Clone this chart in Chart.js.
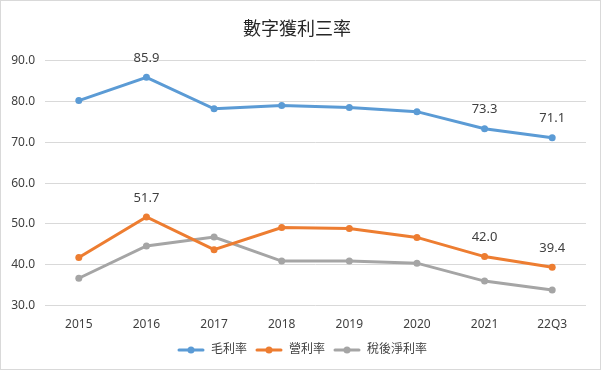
<!DOCTYPE html>
<html>
<head>
<meta charset="utf-8">
<script src="https://cdn.jsdelivr.net/npm/chart.js@4"></script>
<style>
  body { margin: 0; background: #fff; }
  #wrap { width: 601px; height: 370px; }
</style>
</head>
<body>
<div id="wrap"><canvas id="chart" width="601" height="370"></canvas></div>
<script>
const years = ['2015', '2016', '2017', '2018', '2019', '2020', '2021', '22Q3']
const grossMargin = [80.2, 85.9, 78.2, 79.0, 78.5, 77.5, 73.3, 71.1]
const operatingMargin = [41.8, 51.7, 43.7, 49.1, 48.9, 46.7, 42.0, 39.4]
const netMargin = [36.7, 44.6, 46.8, 40.9, 40.9, 40.4, 36.0, 33.8]
const yTicks = [30, 40, 50, 60, 70, 80, 90]
// which points get a value label
const labelled = [1, 6, 7]

const font = '"Noto Sans", "Noto Sans CJK TC", sans-serif'
const colors = ['#5B9BD5', '#ED7D31', '#A5A5A5']

// small line + dot icon for the legend, excel style
const makeIcon = (color) => {
    const c = document.createElement('canvas')
    c.width = 28
    c.height = 8
    const g = c.getContext('2d')
    g.strokeStyle = color
    g.lineWidth = 3
    g.lineCap = 'round'
    g.beginPath()
    g.moveTo(2, 4)
    g.lineTo(26, 4)
    g.stroke()
    g.fillStyle = color
    g.beginPath()
    g.arc(14, 4, 3.5, 0, Math.PI * 2)
    g.fill()
    return c
}
const icons = colors.map(makeIcon)

const frame = {
    id: 'frame',
    beforeDraw(chart) {
        const c = chart.ctx
        c.save()
        c.fillStyle = '#fff'
        c.fillRect(0, 0, chart.width, chart.height)
        c.strokeStyle = '#d9d9d9'
        c.lineWidth = 1
        c.strokeRect(0.5, 0.5, chart.width - 1, chart.height - 1)
        c.restore()
    },
    // legend sits a bit right of centre in the original
    afterLayout(chart) {
        chart.legend.left += 5
        chart.legend.right += 5
    }
}

const valueLabels = {
    id: 'valueLabels',
    afterDatasetsDraw(chart) {
        const c = chart.ctx
        c.save()
        c.font = '13px ' + font
        c.fillStyle = '#404040'
        c.textAlign = 'center'
        c.textBaseline = 'middle'
        ;[0, 1].forEach(di => {
            const meta = chart.getDatasetMeta(di)
            labelled.forEach(i => {
                const p = meta.data[i]
                const v = chart.data.datasets[di].data[i]
                c.fillText(v.toFixed(1), p.x, p.y - 19)
            })
        })
        c.restore()
    }
}

const mk = (label, data, color) => ({
    label,
    data,
    borderColor: color,
    backgroundColor: color,
    borderWidth: 3,
    pointRadius: 3.5,
    pointHoverRadius: 3.5,
    pointBorderWidth: 0,
    tension: 0
})

new Chart(document.getElementById('chart'), {
    type: 'line',
    data: {
        labels: years,
        datasets: [
            mk('毛利率', grossMargin, colors[0]),
            mk('營利率', operatingMargin, colors[1]),
            mk('稅後淨利率', netMargin, colors[2])
        ]
    },
    options: {
        responsive: false,
        animation: false,
        layout: { padding: { left: 8, right: 15, top: 0, bottom: 4 } },
        plugins: {
            title: {
                display: true,
                text: '數字獲利三率',
                color: '#262626',
                font: { family: font, size: 18, weight: 'normal' },
                padding: { top: 19, bottom: 20 }
            },
            legend: {
                position: 'bottom',
                labels: {
                    color: '#404040',
                    font: { family: font, size: 12 },
                    usePointStyle: true,
                    pointStyleWidth: 28,
                    padding: 8,
                    generateLabels(chart) {
                        const items = Chart.defaults.plugins.legend.labels.generateLabels(chart)
                        items.forEach((it, i) => { it.pointStyle = icons[i] })
                        return items
                    }
                }
            },
            tooltip: { enabled: false }
        },
        scales: {
            x: {
                offset: true,
                grid: { display: false },
                border: { display: false },
                ticks: { color: '#404040', font: { family: font, size: 12 }, padding: 4 }
            },
            y: {
                min: 30,
                max: 90,
                afterBuildTicks(axis) { axis.ticks = yTicks.map(v => ({ value: v })) },
                afterFit(axis) { axis.width = 37 },
                grid: { color: '#d9d9d9', drawTicks: false },
                border: { display: false },
                ticks: {
                    color: '#404040',
                    font: { family: font, size: 12 },
                    padding: 10,
                    callback: v => v.toFixed(1)
                }
            }
        }
    },
    plugins: [frame, valueLabels]
})
</script>
</body>
</html>
